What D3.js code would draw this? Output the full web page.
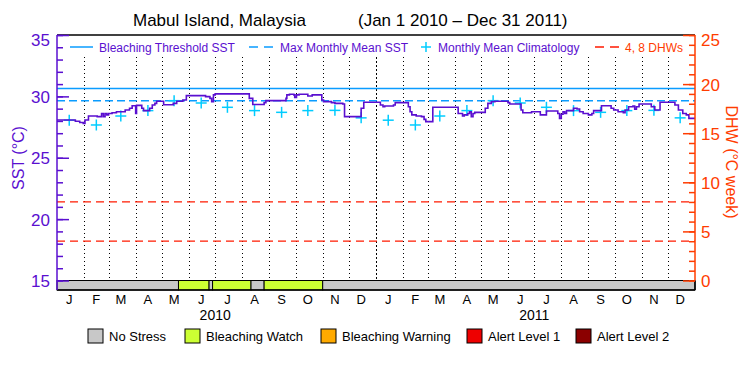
<!DOCTYPE html>
<html><head><meta charset="utf-8">
<script src="https://cdn.jsdelivr.net/npm/d3@7"></script>
<style>
body{margin:0;background:#fff;}
svg{display:block;}
text{font-family:"Liberation Sans",Arial,sans-serif;}
</style>
</head><body>
<svg id="chart" width="750" height="375"></svg>
<script>
// ---------------- DATA ----------------
const startDate = "2010-01-01";
const endDate = "2012-01-01";
const titleLeft = "Mabul Island, Malaysia";
const titleRight = "(Jan 1 2010 \u2013 Dec 31 2011)";
// SST (°C): day offset from Jan 1 2010 where the value changes, and the value
const sstDay = [0,21,26,30,32,36,46,51,53,55,57,59,63,68,78,83,86,90,91,97,
  99,106,109,112,114,122,133,137,144,148,170,175,177,179,181,220,224,237,239,262,
  263,266,271,272,274,277,287,292,303,305,314,318,327,329,348,351,370,373,375,385,
  387,402,404,406,411,417,420,422,430,459,464,466,470,472,474,476,478,490,493,497,
  501,516,518,531,533,543,553,560,573,575,577,579,581,583,591,595,598,602,608,612,
  614,623,634,637,642,648,650,654,659,661,663,666,680,684,690,707,711,716,720,723,730];
const sstValue = [28.07,27.97,27.87,27.80,28.07,28.40,28.35,28.61,28.35,28.61,28.49,28.61,28.67,28.75,28.89,29.03,29.24,28.61,29.27,29.03,
  28.84,29.03,29.30,29.43,29.60,29.32,29.43,29.60,29.70,30.06,29.98,29.84,29.57,30.12,30.20,29.84,29.34,29.49,29.65,29.84,
  30.12,30.17,30.12,29.92,30.12,30.17,30.03,30.12,29.70,29.57,29.49,29.43,29.38,28.35,29.03,29.52,29.30,29.16,29.21,29.30,
  29.49,29.16,28.75,28.49,28.40,28.35,28.13,27.94,29.11,28.61,28.40,28.49,28.61,28.75,28.35,28.61,28.70,29.03,29.43,29.57,
  29.60,29.49,29.38,28.89,28.67,28.75,28.49,28.81,28.61,28.21,28.54,28.75,28.61,28.84,29.03,28.97,28.75,28.61,28.49,28.61,
  28.84,29.24,29.03,28.89,28.75,28.67,28.89,29.16,29.21,28.95,29.16,29.38,29.16,28.89,29.52,29.30,28.89,28.61,28.49,28.21,28.21];
// Monthly mean climatology (Jan..Dec), plotted mid-month each year
const climValue = [28.06,27.67,28.40,28.84,29.65,29.46,29.11,28.84,28.70,28.84,28.86,28.25];
const years = [2010, 2011];
const mmm = 29.65;
const bleachThreshold = 30.65;
const dhwLevels = [4, 8];
// Stress level periods (day offsets) and level index
const stressStart = [0,139,174,178,222,237,304];
const stressEnd   = [139,174,178,222,237,304,730];
const stressLevel = [0,1,0,1,0,1,0];
const stressNames = ["No Stress","Bleaching Watch","Bleaching Warning","Alert Level 1","Alert Level 2"];
const stressColors = ["#c8c8c8","#ccff33","#ffaa00","#ee0000","#8b0000"];
const monthLetters = ["J","F","M","A","M","J","J","A","S","O","N","D"];
const sstTicks = [15,20,25,30,35];
const dhwTicks = [0,5,10,15,20,25];
const topLegend = ["Bleaching Threshold SST","Max Monthly Mean SST","Monthly Mean Climatology","4, 8 DHWs"];

// ---------------- STYLE ----------------
const purple = "#5a0fd0", blue = "#0a9cff", cyan = "#00ccff", orange = "#ff3c00", red = "#ff1a00";
const L = 57, R = 695, T = 35, B0 = 280.5, B = 290, gridTop = 57;

const svg = d3.select("#chart");
const parse = d3.timeParse("%Y-%m-%d");
const t0 = parse(startDate), t1 = parse(endDate);
const day = d => d3.timeDay.offset(t0, d);
const x = d3.scaleTime().domain([t0, t1]).range([L, R]);
const yS = d3.scaleLinear().domain([15, 35]).range([B0, T]);
const yD = d3.scaleLinear().domain([0, 25]).range([B0, T]);

// title
svg.append("text").attr("x", 133).attr("y", 26).attr("font-size", 17).text(titleLeft);
svg.append("text").attr("x", 358).attr("y", 26).attr("font-size", 17).text(titleRight);

// month gridlines (dotted)
const months = d3.timeMonth.range(t0, t1);
svg.append("g").selectAll("line").data(months.slice(1)).join("line")
  .attr("x1", d => Math.round(x(d)) + 0.5).attr("x2", d => Math.round(x(d)) + 0.5)
  .attr("y1", gridTop).attr("y2", B0)
  .attr("stroke", "#000").attr("stroke-width", 1)
  .attr("stroke-dasharray", d => d.getMonth() === 0 ? "2,2" : "1,3");

// DHW reference lines
svg.append("g").selectAll("line").data(dhwLevels).join("line")
  .attr("x1", L).attr("x2", R).attr("y1", d => yD(d)).attr("y2", d => yD(d))
  .attr("stroke", red).attr("stroke-width", 1.3).attr("stroke-dasharray", "8,5");

// MMM & threshold
svg.append("line").attr("x1", L).attr("x2", R).attr("y1", yS(mmm)).attr("y2", yS(mmm))
  .attr("stroke", blue).attr("stroke-width", 1.5).attr("stroke-dasharray", "8,4");
svg.append("line").attr("x1", L).attr("x2", R).attr("y1", yS(bleachThreshold)).attr("y2", yS(bleachThreshold))
  .attr("stroke", blue).attr("stroke-width", 1.5);

// climatology crosses
const clim = [];
years.forEach(yr => climValue.forEach((v, i) => clim.push({d: new Date(yr, i, 15), v})));
const cg = svg.append("g").selectAll("g").data(clim).join("g")
  .attr("transform", d => `translate(${x(d.d)},${yS(d.v)})`);
cg.append("line").attr("x1", -5.5).attr("x2", 5.5).attr("stroke", cyan).attr("stroke-width", 1.5);
cg.append("line").attr("y1", -5.5).attr("y2", 5.5).attr("stroke", cyan).attr("stroke-width", 1.5);

// SST line
const sst = sstDay.map((d, i) => ({d: day(d), v: sstValue[i]}));
svg.append("path").datum(sst)
  .attr("d", d3.line().x(d => x(d.d)).y(d => yS(d.v)).curve(d3.curveStepAfter))
  .attr("fill", "none").attr("stroke", purple).attr("stroke-width", 1.6);

// stress bar
svg.append("g").selectAll("rect").data(stressStart).join("rect")
  .attr("x", (d, i) => x(day(d))).attr("width", (d, i) => x(day(stressEnd[i])) - x(day(d)))
  .attr("y", B0).attr("height", B - B0)
  .attr("fill", (d, i) => stressColors[stressLevel[i]])
  .attr("stroke", "#000").attr("stroke-width", 1);

// frame
svg.append("line").attr("x1", L).attr("x2", R).attr("y1", T).attr("y2", T).attr("stroke", "#000").attr("stroke-width", 1.5);
svg.append("line").attr("x1", L).attr("x2", R).attr("y1", B).attr("y2", B).attr("stroke", "#000").attr("stroke-width", 1.5);
svg.append("line").attr("x1", R).attr("x2", R).attr("y1", B0).attr("y2", B).attr("stroke", "#000").attr("stroke-width", 1.5);

// left axis
const gl = svg.append("g").attr("transform", `translate(${L},0)`);
gl.call(d3.axisLeft(yS).tickValues(d3.range(15, 36, 1)).tickSizeInner(-6).tickSizeOuter(0).tickFormat(""));
gl.call(g => g.append("g").call(d3.axisLeft(yS).tickValues(sstTicks).tickSizeInner(-12).tickSizeOuter(0).tickPadding(7)));
gl.selectAll("path.domain").remove();
gl.selectAll("line").attr("stroke", purple).attr("stroke-width", 1.5);
gl.selectAll("text").attr("fill", purple).attr("font-size", 17).attr("font-family", "Liberation Sans, Arial, sans-serif")
  .attr("dy", d => d === 35 ? "0.62em" : "0.36em");
svg.append("line").attr("x1", L).attr("x2", L).attr("y1", T).attr("y2", B).attr("stroke", purple).attr("stroke-width", 1.5);

// right axis
const gr = svg.append("g").attr("transform", `translate(${R},0)`);
gr.call(d3.axisRight(yD).tickValues(d3.range(0, 26, 1)).tickSizeInner(-6).tickSizeOuter(0).tickFormat(""));
gr.call(g => g.append("g").call(d3.axisRight(yD).tickValues(dhwTicks).tickSizeInner(-12).tickSizeOuter(0).tickPadding(6)));
gr.selectAll("path.domain").remove();
gr.selectAll("line").attr("stroke", orange).attr("stroke-width", 1.5);
gr.selectAll("text").attr("fill", orange).attr("font-size", 17).attr("font-family", "Liberation Sans, Arial, sans-serif")
  .attr("dy", d => d === 25 ? "0.62em" : "0.36em");
svg.append("line").attr("x1", R).attr("x2", R).attr("y1", T).attr("y2", B0).attr("stroke", orange).attr("stroke-width", 1.5);

// axis titles
svg.append("text").attr("transform", "translate(24,158) rotate(-90)").attr("text-anchor", "middle")
  .attr("font-size", 16).attr("fill", purple).text("SST (\u00B0C)");
svg.append("text").attr("transform", "translate(726,162) rotate(90)").attr("text-anchor", "middle")
  .attr("font-size", 16).attr("fill", orange).text("DHW (\u00B0C week)");

// month letters & years
svg.append("g").selectAll("text").data(months).join("text")
  .attr("x", d => x(d3.timeDay.offset(d, 14))).attr("y", 304).attr("text-anchor", "middle")
  .attr("font-size", 13).text(d => monthLetters[d.getMonth()]);
svg.append("g").selectAll("text").data(years).join("text")
  .attr("x", d => x(new Date(d, 6, 1))).attr("y", 320).attr("text-anchor", "middle")
  .attr("font-size", 14).text(d => d);

// top legend
const ly = 47;
svg.append("line").attr("x1", 70).attr("x2", 93).attr("y1", ly).attr("y2", ly).attr("stroke", blue).attr("stroke-width", 1.5);
svg.append("text").attr("x", 99).attr("y", ly + 4.5).attr("font-size", 12).attr("fill", purple).text(topLegend[0]);
svg.append("line").attr("x1", 249).attr("x2", 273).attr("y1", ly).attr("y2", ly).attr("stroke", blue).attr("stroke-width", 1.5).attr("stroke-dasharray", "9,6");
svg.append("text").attr("x", 280).attr("y", ly + 4.5).attr("font-size", 12).attr("fill", purple).text(topLegend[1]);
svg.append("line").attr("x1", 421).attr("x2", 431).attr("y1", ly).attr("y2", ly).attr("stroke", cyan).attr("stroke-width", 1.5);
svg.append("line").attr("x1", 426).attr("x2", 426).attr("y1", ly - 5).attr("y2", ly + 5).attr("stroke", cyan).attr("stroke-width", 1.5);
svg.append("text").attr("x", 438).attr("y", ly + 4.5).attr("font-size", 12).attr("fill", purple).text(topLegend[2]);
svg.append("line").attr("x1", 595).attr("x2", 619).attr("y1", ly).attr("y2", ly).attr("stroke", red).attr("stroke-width", 1.5).attr("stroke-dasharray", "9,6");
svg.append("text").attr("x", 625).attr("y", ly + 4.5).attr("font-size", 12).attr("fill", orange).text(topLegend[3]);

// bottom legend
const boxX = [88, 185, 321, 467, 576];
const lg = svg.append("g").selectAll("g").data(stressNames).join("g")
  .attr("transform", (d, i) => `translate(${boxX[i]},329)`);
lg.append("rect").attr("width", 15).attr("height", 14).attr("fill", (d, i) => stressColors[i])
  .attr("stroke", "#000").attr("stroke-width", 1);
lg.append("text").attr("x", 21).attr("y", 12).attr("font-size", 13).text(d => d);
</script>
</body></html>
